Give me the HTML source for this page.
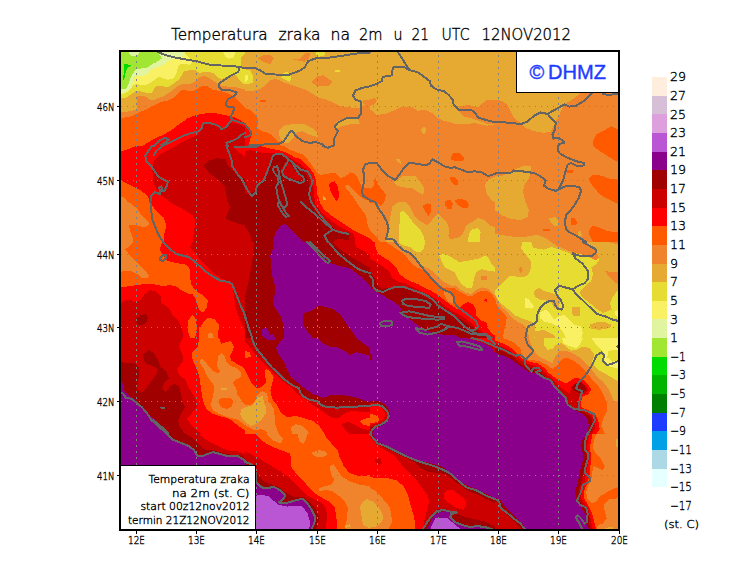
<!DOCTYPE html>
<html><head><meta charset="utf-8"><title>Temperatura zraka na 2m</title>
<style>html,body{margin:0;padding:0;background:#fff}svg{display:block}text{font-family:"DejaVu Sans","Liberation Sans",sans-serif;font-weight:200;fill:#000;stroke:#000;stroke-width:0.35px}.lib{font-family:"Liberation Sans",sans-serif;font-weight:400}</style>
</head><body>
<svg width="740" height="582" viewBox="0 0 740 582">
<rect x="0" y="0" width="740" height="582" fill="#fff"/>
<defs><clipPath id="cp"><rect x="121" y="52" width="497" height="477"/></clipPath></defs>
<g clip-path="url(#cp)" shape-rendering="crispEdges">
<rect x="121" y="52" width="497" height="477" fill="#F0842C"/>
<clipPath id="t0"><rect x="120" y="50" width="125" height="96"/></clipPath>
<g clip-path="url(#t0)">
<rect x="120" y="50" width="125" height="96" fill="#FF5A00"/>
<polygon fill="#FF0000" points="142,146 148.7,142 156.3,137.8 163.9,134.5 172.4,129.4 179.1,124.3 187.6,118.4 196,115 206.1,113.3 216.3,113.3 224.7,115 233.2,116.7 239.9,120.1 245,123.5 250,127 250,150 142,150"/>
<polygon fill="#CD0000" points="175.7,146 184.2,141.2 190.9,137.8 197.7,134.5 201.9,129.4 202.8,124.3 207.8,123.5 214.6,125.2 221.4,128.5 228.1,125.2 231.5,122.6 238.2,124.3 245,127.7 250,130 250,150 175,150"/>
<polygon fill="#F0842C" points="120,118.4 130.1,116.7 138.6,112.8 147,108.9 152.4,106.2 156.8,104 163.2,101.4 168.6,100.3 173,98.1 176.2,95.4 180.5,91 182.7,89.5 187,90.5 194,90.5 201.6,86.2 207,86.2 212.4,89.5 220,91 227.6,93.2 232,95.4 236.2,98.6 240.5,103 245,107.3 250,110.5 255.7,112 260,112 260,50 120,50"/>
<polygon fill="#E6AA32" points="120,112.5 128,111.5 133,110.5 136.9,109 136.9,96 145,96.5 149.2,99.2 153.5,100.3 156.8,98.6 163.2,96.5 167.6,93.8 171.9,90.5 176.2,87.3 180.5,84.6 184.9,83.5 189.2,84.6 193.5,82.4 197.8,79.2 199.5,77 204.9,76 209.2,78.1 215.7,82.4 221,85.7 228.6,86.8 236.2,87.3 240.5,88.4 247,89.5 253.5,88.9 260,86.8 260,50 120,50"/>
<polygon fill="#E6DC32" points="120,98.1 125.4,97.6 129.7,95.4 134,92.2 137.3,90.5 141.6,91.6 146,92.7 150.3,93.2 152.4,92.2 154.6,87.8 157.3,85.7 163.2,86.2 167.6,87.3 170.8,85.7 175.1,82.4 179.5,79.2 182,75 184.3,71 190.8,70 196.2,70.5 199.5,73.2 206,71.6 212.4,72.7 215.7,74.9 219,78.1 221,79.7 223.2,78.6 227.6,76 232,74.3 236.2,75.4 239.5,80.3 242.7,83.5 249.2,85.7 253.5,84 254.6,79.2 252.4,73.8 249.2,70.5 244.9,69 241.6,66.2 240.5,62 241.6,56.5 244.9,53.2 247,50 120,50"/>
<polygon fill="#FAF064" points="120,94.3 125.4,93.2 129.7,90 133,85.7 136.2,84 141.6,85.1 147,84.6 151.4,82.4 155.7,78.6 158.9,77 163.2,78.1 167.6,79.7 171.9,79.2 175.1,76 177.3,71.6 177.8,66.2 180.5,64 184.9,63.5 189.2,65.1 191.9,63 190.3,58.6 187,55.4 184.9,53.2 183.8,50 120,50"/>
<polygon fill="#E1F5A0" points="120,92.7 124.3,92.7 127.6,90.5 130.8,87.3 133,82.4 134,77.6 137.3,75.4 141.6,75.9 144.9,75.4 148.1,73.2 151.4,68.9 155.7,67.8 160,66.2 164.3,64 168.6,60.8 173,59.2 177.3,57.6 181.6,56.5 184.3,54.3 184.9,50 120,50"/>
<polygon fill="#A0E632" points="120,88.4 125.4,88.9 128.1,85.7 130.3,78.1 133,73.2 136.2,69.5 141.6,68.4 148.1,67.3 152.4,64 156.8,61.9 161.6,58.6 160,55.4 156.8,50 120,50"/>
<polygon fill="#E1F5A0" points="127.6,50 129.7,54.9 134,56.5 137.8,55.4 140,50"/>
<polygon fill="#00DC00" points="124.1,63.8 131.9,65.1 127.6,67.8 125.4,73.2 124.1,79.7 122.7,79.7 124.1,71.1"/>
<polygon fill="#FAF064" points="222.2,50 225.4,56.5 228.6,58.6 233,57.6 235.1,54.3 235.7,50"/>
</g>
<clipPath id="t1"><rect x="245" y="50" width="125" height="96"/></clipPath>
<g clip-path="url(#t1)">
<rect x="245" y="50" width="125" height="96" fill="#F0842C"/>
<polygon fill="#E6AA32" points="245,91.4 255.1,90.5 261.9,88 267,83.8 270.3,80.4 275.4,78.7 281.3,81.2 287.2,83.8 295.7,86.3 304.1,89.2 312.6,93.6 317.6,97.3 324.4,99 332.8,102.4 339.6,105.7 349.7,107.4 361.6,108.3 363.2,104.9 370,104.9 370,50 245,50"/>
<polygon fill="#F0842C" points="257.7,58.4 263.6,55.1 270.3,55.1 273.7,58.4 270.3,64.4 265.3,62.7"/>
<polygon fill="#F0842C" points="292.3,59.3 300.7,58.4 305.8,52.5 310,52.5 309.2,58.4 304.1,61.8"/>
<polygon fill="#F0842C" points="310.9,82.1 317.6,76.2 323.5,75.3 332.8,82.1 327.8,86.3 317.6,86.3"/>
<polygon fill="#F0842C" points="363.2,99.8 370,99.8 370,104.9 363.2,104.4"/>
<polygon fill="#E6DC32" points="245,69.4 250.1,70.3 253.4,77 252.6,82.9 245,84.6"/>
<polygon fill="#E6DC32" points="283,72.8 288.1,72 291.5,77 289.8,82.1 285.5,79.6 281.3,77.9"/>
<polygon fill="#E6DC32" points="314.3,50 326.1,50 324.4,55.9 317.6,56.8"/>
<polygon fill="#E6DC32" points="335.4,70.3 339.6,70.3 339.6,72 335.4,72"/>
<polygon fill="#FAF064" points="245,74.5 247.5,75.3 248.4,79.6 245,82.1"/>
<polygon fill="#E6AA32" points="278.8,131.1 283,126 294,123.5 304.1,124.3 312.6,128.5 317.6,132.8 317.6,137 310.9,135.3 302.4,131.1 295.7,132.8 294,137.8 288.9,142.9 283,142.9 279.6,137"/>
<polygon fill="#E6AA32" points="336.2,121.8 346.4,117.6 358.2,119.3 359.9,124.3 349.7,124.3 339.6,126.9 336.2,129.4"/>
<polygon fill="#FF5A00" points="245,108.3 250.1,110 255.1,114.2 258.5,120.9 256.8,127.7 261.9,131.1 268.6,132.8 274.6,137.8 278.8,142.1 281.3,145.9 245,145.9"/>
<polygon fill="#FF0000" points="245,124.3 249.2,129.4 251.8,134.5 250.1,139.5 248.4,145.9 245,145.9"/>
<polygon fill="#FF5A00" points="260.2,99.8 266.1,99.8 266.1,101.5 260.2,101.5"/>
</g>
<clipPath id="t2"><rect x="370" y="50" width="125" height="96"/></clipPath>
<g clip-path="url(#t2)">
<rect x="370" y="50" width="125" height="96" fill="#E6AA32"/>
<polygon fill="#F0842C" points="370,109.1 376.8,115 386.9,113.3 395.3,110 401.2,106.6 412.2,106.6 417.3,110.8 425.7,110 432.5,113.3 437.6,117.6 444.3,120.9 454.5,123.5 464.6,124.3 474.7,123 486.6,125.7 495,124.3 495,145.9 370,145.9"/>
<polygon fill="#F0842C" points="458.7,106.6 468,104.9 478.1,107.4 486.6,99.8 495,99.8 495,124.3 488.2,124.3 479.8,120.9 471.4,118.4 464.6,116.7 459.5,111.7"/>
<polygon fill="#F0842C" points="370,99 375.1,98.1 376.8,100.7 375.1,104.1 370,105.7"/>
<polygon fill="#E6AA32" points="420.7,130.2 424.1,126 426.6,130.2 424.1,135.3"/>
</g>
<clipPath id="t3"><rect x="495" y="50" width="125" height="96"/></clipPath>
<g clip-path="url(#t3)">
<rect x="495" y="50" width="125" height="96" fill="#F0842C"/>
<polygon fill="#E6AA32" points="495,50 495,99.8 501.8,100.7 506.8,104.1 510.2,110.8 513.6,117.6 520.3,122.6 525.4,127.7 533.9,131.1 544,132.8 550.7,131.9 554.1,124.3 558.3,117.6 562.6,107.4 567.6,102.4 574.4,98.1 579.5,93.9 582.8,92.2 582.8,50"/>
<polygon fill="#FF5A00" points="593,141.2 596.4,134.5 603.1,131.1 611.6,126 617.5,129.4 620,145.9 593,145.9"/>
</g>
<clipPath id="t4"><rect x="120" y="146" width="125" height="96"/></clipPath>
<g clip-path="url(#t4)">
<rect x="120" y="146" width="125" height="96" fill="#CD0000"/>
<polygon fill="#FF0000" points="120,146 175.7,146 169,149.4 160.5,154.4 153.8,160.4 152.1,168 152.9,176.4 153.8,184 156.3,189.1 160.5,195 165.6,198.4 170.7,202.6 177.4,206 185.9,211 192.6,215.3 195.2,220.3 194.3,230.5 192.6,241.9 120,241.9"/>
<polygon fill="#FF5A00" points="120,146 136,146 128.4,149 120,151.9"/>
<polygon fill="#FF5A00" points="120,179.8 128.4,184 138.6,189.1 147,195 151.2,204.3 156.3,211 163.9,217.8 166.5,225.4 164.3,233.8 163.6,241.9 120,241.9"/>
<polygon fill="#F0842C" points="120,196.7 124.2,197.5 127.6,201.7 131.8,204.3 136.9,208.5 140.3,213.6 145.3,218.6 149.6,222.9 147.9,226.2 143.6,227.1 136.9,225.4 128.4,224.5 130.1,230.5 132.7,237.2 133.5,241.9 120,241.9"/>
<polygon fill="#A00000" points="203.6,165.4 209.5,160.4 217.1,158.2 225.6,159.5 227.3,164.6 231.5,169.6 236.6,173.9 241.6,177.2 245,178.9 245,225.4 238.2,223.7 231.5,221.2 225.6,218.6 228.1,212.7 229.8,206.8 227.3,200.1 225.6,191.6 224.7,186.5 221.4,182.3 216.3,178.1 209.5,173 206.1,168.8"/>
<polygon fill="#FF0000" points="232.3,146 245,146 245,157 241.6,154.4 236.6,150.2"/>
</g>
<clipPath id="t5"><rect x="245" y="146" width="125" height="96"/></clipPath>
<g clip-path="url(#t5)">
<rect x="245" y="146" width="125" height="96" fill="#F0842C"/>
<polygon fill="#FF5A00" points="283.9,146 288.9,149.4 295.7,151.9 302.4,154.4 308,160 312.6,166.3 317.6,173 320.3,175 327,173.7 335,173 340.5,177.8 344.6,177 350,172.4 354,173 358,178.4 361,185.2 363.5,188 372,188 372,250 245,250 245,146"/>
<polygon fill="#F0842C" points="347,184.5 350,186 355,192 361,197 366,200 372,200 385,238 380,238.1 378.1,237.2 374.3,234.3 370.5,230.5 367.7,225.8 366.8,219.2 364.9,213.5 361.1,208.8 356,201.6 350.5,193.5 345,186.8"/>
<polygon fill="#FF0000" points="260.2,146 270.3,148.5 278.8,150.2 287.2,152.8 295.7,157.8 300,158.8 308.1,166.3 313.5,173 316.2,181.1 316.9,190.6 318.9,198.7 320,203 324.2,209.7 329.9,214.5 335.5,218.2 341.2,222 346.9,225.8 352.6,229.6 358.2,232.4 363.9,235.3 369.6,238.1 373.4,241.9 375.8,246.6 245,250 245,146"/>
<polygon fill="#CD0000" points="245,151.9 250.1,150.2 260.2,152.4 270.3,153.1 278.8,153.6 287.2,156.5 295.7,161.2 300,163.6 306.8,169.6 311.5,177.1 313.5,186.5 314.2,196 315,201 315.7,205 320.4,210.7 326.1,216.4 331.8,221.1 337.4,225.3 343.1,228.7 348.8,231.5 352.6,233.4 354.9,237.2 355.4,242.8 355.4,247.6 245,250 245,152"/>
<polygon fill="#FF0000" points="245,147.4 250.1,147.4 260.2,149.4 260.2,152.4 250.1,150.2 245,151.9"/>
<polygon fill="#A00000" points="245,193.6 248.4,193.6 253.4,191.9 256.8,185.2 263.6,180.1 267,171.7 270.3,163.2 272.9,155.3 278.8,154.4 287.2,157.8 294,162 300,168.3 305.4,173 308.8,179.8 310.1,189.2 310.8,198.7 312,204 313.8,208.8 319.5,215.4 325.1,221.1 330.8,225.8 336.5,230.5 342.2,233.4 348.8,235.3 348.8,240 345,240.5 340.3,238.6 336.5,239.5 333.7,241.9 333.2,245.7 333,250 251.8,250.7 251.8,241.9 250.1,233.8 245,227.1"/>
<polygon fill="#CD0000" points="285.5,162 289.8,162.9 293.1,168 297.4,173 301.6,177.2 300.7,179.8 294.8,179.8 288.1,177.2 283,173.9 281.3,169.6 283,165.4"/>
<polygon fill="#8B008B" points="272.9,241.9 275.4,232.1 281.3,225.4 285.5,223.7 290.6,228.8 297.4,235.5 303.3,241.9"/>
<polygon fill="#FF0000" points="329,185.2 331,181.8 334.5,181.4 337.2,184.5 338.5,190.6 338.5,198 336.5,201.4 333.1,196 330.4,191.3"/>
<polygon fill="#E6AA32" points="323,195.3 326.4,199.4 323,200"/>
</g>
<clipPath id="t6"><rect x="370" y="146" width="125" height="96"/></clipPath>
<g clip-path="url(#t6)">
<rect x="370" y="146" width="125" height="96" fill="#F0842C"/>
<polygon fill="#FF5A00" points="370,189.9 373.4,186.5 375.1,177.2 377.6,184 381.8,189.1 386,195 384.4,201.7 381,206 376.8,203.4 370,202.6"/>
<polygon fill="#FF5A00" points="370,230.5 376.8,237.2 380.1,241.9 370,241.9"/>
<polygon fill="#FF0000" points="370,238.1 373.4,241.9 370,241.9"/>
<polygon fill="#FF5A00" points="451.1,156.1 453.6,153.1 459.5,153.1 464.6,157.8 462.9,161.2 456.1,161.2 451.1,159.5"/>
<polygon fill="#FF5A00" points="449.4,177.2 454.5,177.2 457.8,180.6 457.8,184.5 453.6,184.5 451.1,181.5"/>
<polygon fill="#FF5A00" points="445.2,200.9 450.2,199.7 452.8,203.4 451.9,208.8 447.7,209.3 445.2,205.1"/>
<polygon fill="#FF5A00" points="454.5,200.1 461.2,198.7 467.1,200.9 469.3,205.1 467.1,208.5 462.1,207.7 457,204.3"/>
<polygon fill="#FF5A00" points="422.4,206 427.4,203.4 430.5,204.3 430.5,212.7 428.3,216.1 424.9,211"/>
<polygon fill="#E6AA32" points="393.6,182.3 403.8,175.6 415.6,176.4 420.7,182.3 424.1,188.2 423.2,195 417.3,191.6 412.2,188.2 403.8,187.4 397,185.7"/>
<polygon fill="#E6AA32" points="386,241.9 386.9,233.8 388.6,225.4 391.1,213.6 392,206.8 397,202.6 405.5,201.7 410.5,207.7 413.9,215.3 419,220.3 427.4,225.4 431.7,220.3 435,216.1 438.4,213.6 442.6,217.8 446.9,222.9 449.4,228.8 448.5,235.5 450.2,238.9 457.8,238.1 462.9,233.8 466.3,225.4 473,221.2 478.1,217.8 484.9,220.3 489.9,225.4 495,227.1 495,241.9"/>
<polygon fill="#E6AA32" points="495,176.4 488.2,179.8 484.9,184.9 486.6,193.3 491.6,200.1 495,202.6"/>
<polygon fill="#E6AA32" points="395.3,159.2 400.4,159.5 400.7,163.7 397.9,162"/>
<polygon fill="#E6DC32" points="398.7,241.9 399.1,233.8 399.6,222 400.4,211.9 403.8,211 408.9,216.9 413.9,223.7 420.7,230.5 424.1,237.2 424.9,241.9"/>
<polygon fill="#E6DC32" points="468,241.9 468.8,233.8 471.4,229.6 478.1,227.9 480.6,232.1 479.8,241.9"/>
</g>
<clipPath id="t7"><rect x="495" y="146" width="125" height="96"/></clipPath>
<g clip-path="url(#t7)">
<rect x="495" y="146" width="125" height="96" fill="#F0842C"/>
<polygon fill="#FF5A00" points="593,146 599.7,151.1 606.5,155.3 613.2,159.5 620,162.9 620,146"/>
<polygon fill="#FF5A00" points="588.8,178.1 593,175.1 601.4,175.6 609.9,178.9 620,179.8 620,205.1 613.2,201.7 606.5,198.4 599.7,194.1 594.7,188.2 590.4,183.2"/>
<polygon fill="#FF5A00" points="588.8,230.5 593,225.4 599.7,227.9 608.2,231.3 620,232.1 620,241.9 593,241.9 589.6,235.5"/>
<polygon fill="#FF5A00" points="566.8,169.6 572.7,169.6 572.7,172.7 566.8,172.7"/>
<polygon fill="#FF5A00" points="571,218.6 574.4,217.8 576.9,222 576.1,225.4 571,224.5"/>
<polygon fill="#FF5A00" points="543.1,228.8 549.9,228.8 549.9,230.5 543.1,230.5"/>
<polygon fill="#E6AA32" points="495,176.4 501.8,176.1 510.2,171.3 518.6,168 525.4,165.4 531.3,166.3 531.3,171.3 528.8,178.1 524.6,184.9 522.9,191.6 525.4,201.7 528.8,210.2 527.9,216.9 520.3,220.3 510.2,218.6 501.8,215.3 495,210.2"/>
<polygon fill="#E6AA32" points="548.2,218.6 555.8,216.9 558.3,222 557.5,226.2 553.3,225.4"/>
<polygon fill="#E6AA32" points="495,233.8 505.1,235.5 517,237.2 528.8,236.4 537.2,234.7 545.7,238.1 550.7,241.9 495,241.9"/>
<polygon fill="#E6AA32" points="577.8,232.1 580.3,230.5 582,235.5 578.6,236.4"/>
</g>
<clipPath id="t8"><rect x="120" y="242" width="125" height="96"/></clipPath>
<g clip-path="url(#t8)">
<rect x="120" y="242" width="125" height="96" fill="#FF0000"/>
<polygon fill="#CD0000" points="192.6,242 190.1,247.1 194.3,252.1 199.4,258.9 206.1,265.6 212.9,272.4 221.4,278.3 229.8,282.5 232.8,287.6 234,296.9 235.5,307.4 238.9,317.5 244.2,327.8 245,329.8 245,242"/>
<polygon fill="#CD0000" points="120,303.7 125.1,300.3 130.1,299.4 133.5,302 140.3,300.3 144.5,294.4 149.6,290.1 155.5,291 160.5,296.1 161.4,302.8 169,307.9 172.4,314.6 177.4,319.7 181.7,326.5 183.3,337.9 120,337.9"/>
<polygon fill="#A00000" points="136,318.9 140.3,315.5 145.3,313.8 147.9,317.2 147,322.2 141.1,325.6 136.9,324.8"/>
<polygon fill="#FF5A00" points="120,242 162.2,242 159.7,248.8 162.2,254.7 167.3,260.6 175.7,263.1 184.2,264 189.3,267.3 190.1,275.8 190.9,284.2 196,291 202.8,295.2 207.8,300.3 207,307 203.6,312.1 200.2,311.3 197.7,306.2 196,299.4 192.6,294.4 187.6,293.5 182.5,291 175.7,285.9 169,285.1 163.1,286.3 153.8,284.2 145.3,283.9 136.9,285.1 128.4,286.3 120,287.6"/>
<polygon fill="#FF5A00" points="187.6,321.4 192.6,314.6 196,319.7 196.9,328.1 195.2,337.9 190.1,337.9 187.6,329.8"/>
<polygon fill="#FF5A00" points="202.8,323.1 207.8,318 214.6,318.9 218.8,324.8 218,337.9 199.4,337.9 198.5,329.8"/>
<polygon fill="#F0842C" points="120,242 133.5,242 130.1,245.4 125.1,249.6 130.1,255.5 136.9,262.3 143.6,269 148.7,274.9 147.9,278.3 142,278.3 136,273.2 130.1,270.7 123.4,270.7 120,272.4"/>
<polygon fill="#F0842C" points="207.8,334.1 212.1,332.4 213.8,337.9 207.8,337.9"/>
</g>
<clipPath id="t9"><rect x="245" y="242" width="125" height="96"/></clipPath>
<g clip-path="url(#t9)">
<rect x="245" y="242" width="125" height="96" fill="#8B008B"/>
<polygon fill="#A00000" points="245,242 273.7,242 272.9,248.8 270.3,255.5 271.2,265.6 272,275.8 274.6,284.2 275.4,292.7 272.9,299.4 273.7,306.2 277.1,311.3 280.5,316.3 283,323.1 283.9,331.5 283.5,337.9 245,337.9"/>
<polygon fill="#A00000" points="307.5,242 312.6,247.9 319.3,253.8 326.1,259.7 331.1,263.1 337.9,265.6 346.4,267.3 353.1,270.7 359.9,275.8 366.6,281.7 370,285.1 370,242"/>
<polygon fill="#A00000" points="303.3,313.8 309.2,311.3 314.3,309.6 317.6,305.9 322.7,306.2 329.5,307.9 336.2,311.3 341.3,315.5 344.7,321.4 349.7,328.1 354.8,334.9 355.6,337.9 312.6,337.9 307.5,331.5 303.3,324.8"/>
<polygon fill="#8B008B" points="261.9,329.8 266.1,327.3 268.6,331.5 269.5,334.9 272.9,334.1 275.4,337.9 262.7,337.9"/>
<polygon fill="#CD0000" points="245,242 254.3,242 253.4,248.8 252.6,258.9 250.9,269 249.2,279.2 246.7,289.3 245,296.1"/>
<polygon fill="#CD0000" points="332.8,242 339.6,248.8 346.4,253.8 354.8,258.9 363.2,264 370,267.3 370,242"/>
<polygon fill="#FF0000" points="354.8,242 356.5,247.1 363.2,250.4 370,255.5 370,242"/>
</g>
<clipPath id="t10"><rect x="370" y="242" width="125" height="96"/></clipPath>
<g clip-path="url(#t10)">
<rect x="370" y="242" width="125" height="96" fill="#E6AA32"/>
<polygon fill="#E6DC32" points="397.9,242 403.8,245.4 410.5,247.1 414.8,251.3 420.7,252.1 424.1,248.8 424.9,242"/>
<polygon fill="#E6DC32" points="439.3,255.5 444.3,253.8 451.1,257.2 459.5,262.3 468,260.6 478.1,258.9 484.9,255.5 488.2,257.2 491.6,264 495,267.3 495,271.6 488.2,270.7 481.5,269 476.4,271.6 473.9,278.3 473,284.2 471.4,288.5 466.3,287.6 461.2,284.2 457.8,278.3 454.5,272.4 449.4,269.9 444.3,267.3 441.8,261.4"/>
<polygon fill="#F0842C" points="385.3,236 392,239.4 397.4,245.5 402.8,250.9 409.6,252.9 415,258.3 420.4,264.4 424.5,267.1 428.5,268.4 433.9,272.5 438,276.5 442,280.6 447.4,284 452.8,286 455,285.3 460.4,289.6 465.8,292.8 471.2,293.9 476.6,289.6 482,287.4 487.4,288.5 491.8,291.8 495,295.5 498.2,301.5 498,340 365,340 365,236"/>
<polygon fill="#F0842C" points="480.6,275.8 487.4,275.8 487.4,279.5 480.6,279.5"/>
<polygon fill="#FF5A00" points="377.8,236 382.6,240 389.3,244.1 396,248.8 402.8,252.9 406.9,257.6 410.9,263 416.4,267.1 423.1,269.8 428.5,274.5 433.9,279.2 439.3,284.6 443.4,288 446,287.4 451.5,288.2 455,288.5 460.4,292.3 465.8,295 471.2,296.6 476.6,292.8 482,290.7 487.4,291.2 491.8,293.9 494.5,298.2 496.6,303.6 497,340 365,340 365,236"/>
<polygon fill="#F0842C" points="443.4,290 446.5,289 450,293 453,298 455,303 451.5,303.6 447.4,300.9 444.7,295.5"/>
<polygon fill="#FF0000" points="372.4,236 374.5,241.4 375.8,248.2 378.5,253.6 383.9,257.6 390.7,261.7 396,267.1 399.5,273.8 404.2,277.9 410.9,281.3 417.7,284 424.5,288 431.2,290.7 436.6,294.1 442,298.2 447.4,302.2 452.8,306.3 457.8,309.6 462,305.3 468,302 473,304.5 475.6,309.6 476.4,316.3 481.5,320.5 486.6,323 488.2,328.1 491.6,333.2 495,335.8 495,340 365,340 365,236"/>
<polygon fill="#CD0000" points="365,256.3 370.4,259 377.2,263 383.9,267.1 390,272.5 392,277.9 397.4,281.3 404.2,283.3 410.9,286 417.7,289.4 424.5,292.8 431.2,296.1 436.6,299.5 442,303.6 447.4,307.6 452.8,311.7 461.2,315.5 469.7,321.4 476.4,327.3 483.2,332.4 491.6,336.6 495,338 495,340 365,340"/>
<polygon fill="#A00000" points="365,269.8 370.4,272.5 374.5,277.9 377.2,284.6 381.2,288.7 388,288 394.7,286.7 402.8,286.7 409.6,290 416.4,293.4 423.1,296.1 429.9,298.8 435.3,302.2 440.7,306.3 446.1,310.3 448.8,314 462.9,320.5 471.4,326.5 478.1,331.5 486.6,336.6 488.2,338 488,340 365,340"/>
<polygon fill="#8B008B" points="365,282 370.4,287.4 377.2,292.8 385.3,296.8 392,300.9 398.8,304.9 400.8,309 400,314 403.8,314.6 410.5,319.7 417.3,324.8 425.7,329.8 435.9,334 446,334.9 454.5,334.6 459.5,338 459.5,340 365,340"/>
<polygon fill="#FF0000" points="483.2,300.3 487.4,298.6 487.4,302"/>
</g>
<clipPath id="t11"><rect x="495" y="242" width="125" height="96"/></clipPath>
<g clip-path="url(#t11)">
<rect x="495" y="242" width="125" height="96" fill="#E6DC32"/>
<polygon fill="#E6AA32" points="495,242 522,242 521.2,248.8 525.4,253.8 530.5,260.6 531.3,267.3 528.8,274.1 523.7,277.5 517,276.6 510.2,275.8 505.1,280.9 500.1,285.9 495,291"/>
<polygon fill="#E6AA32" points="531.3,242 533,247.9 544,249.6 551.6,247.1 560,249.6 569.3,253 572.7,255.5 574.4,252.1 569.3,246.2 565.9,242"/>
<polygon fill="#E6AA32" points="599.7,258.9 596.4,264 591.3,267.3 593,274.1 591.3,280.9 587.1,284.2 582.8,288.5 579.5,292.7 582.8,297.7 589.6,302.8 596.4,308.7 603.1,312.9 611.6,309.6 609.9,302.8 613.2,296.1 617.5,291 620,258.9"/>
<polygon fill="#E6AA32" points="533.9,291 538.9,287.6 544,291 550.7,292.7 555.8,294.4 560,299.4 559.2,306.2 554.1,308.7 550.7,301.1 544,300.3 538.9,299.4 534.7,296.1"/>
<polygon fill="#E6AA32" points="495,292.7 495.5,295 498.2,300.4 502.6,304.7 506.8,308 511.2,311.3 515.4,315.5 522.9,318.9 530.5,321.4 535.5,323.9 534.7,329.8 533.9,337.9 495,337.9"/>
<polygon fill="#F0842C" points="495,295.5 498.2,301.5 501.4,306.9 506.8,311.3 511.2,317 517,321.4 523.7,324.8 527.9,329 528.8,337.9 495,337.9"/>
<polygon fill="#FF5A00" points="495,298.6 496.5,303.7 499.2,309.1 503.6,313.5 506.8,317 506,323.1 504.3,329.8 502.6,337.9 495,337.9"/>
<polygon fill="#E6AA32" points="571.9,307 579.5,307 579.5,316.3 572.7,316.3"/>
<polygon fill="#E6AA32" points="589.6,324.8 596.4,322.2 604.8,322.2 611.6,324.8 609.9,328.1 599.7,329.8 591.3,329"/>
<polygon fill="#E6AA32" points="533.9,331.5 544,329.8 552.4,334.1 555.8,337.9 534.7,337.9"/>
<polygon fill="#E6AA32" points="586.2,242 591.3,247.1 596.4,252.1 598.9,258 599.7,258.9 620,258.9 620,242"/>
<polygon fill="#F0842C" points="550.7,242 557.5,246.2 565.9,249.6 574.4,253 582.8,254.7 589.6,257.2 596.4,260.6 598.9,258 596.4,252.1 591.3,247.1 586.2,242"/>
<polygon fill="#F0842C" points="604.8,270.7 611.6,272.4 620,271.6 620,285.9 613.2,280.9 608.2,275.8"/>
<polygon fill="#F0842C" points="518.6,269 521.2,266.5 522.9,270.7 520.3,273.2"/>
<polygon fill="#F0842C" points="609.9,242 620,242 620,243.7 609.9,243.4"/>
<polygon fill="#FAF064" points="525.4,297.7 528.8,299.4 533.9,306.2 532.2,308.7 525.4,307.9"/>
<polygon fill="#FAF064" points="539.8,312.9 545.7,309.6 550.7,314.6 554.1,319.7 559.2,316.3 564.3,314.6 569.3,319.7 574.4,324.8 581.1,326.5 582.8,333.2 581.1,337.9 565.9,337.9 562.6,331.5 557.5,326.5 550.7,323.1 544,321.4 539.8,318"/>
<polygon fill="#FAF064" points="614.9,311.3 620,309.6 620,317.2 615.8,316.3"/>
</g>
<clipPath id="t12"><rect x="120" y="338" width="125" height="96"/></clipPath>
<g clip-path="url(#t12)">
<rect x="120" y="338" width="125" height="96" fill="#CD0000"/>
<polygon fill="#A00000" points="120,361.6 126.8,363.3 135.2,363.3 138.6,366.7 139.4,374.3 137.7,383.6 136.9,388.7 142,392.9 147,387 152.1,380.2 156.3,374.3 158,369.2 152.1,365.9 145.3,363.3 142.8,354.9 148.7,349.8 153.8,353.2 158,360 160.5,366.7 166.5,371.8 169,378.5 164.8,381.9 162.2,388.7 165.6,392.1 169.8,387 174.1,383.6 179.1,386.1 180.8,393.7 182.5,402.2 185,407.3 180.8,414 178.3,420.8 180,427.5 185.5,433.9 120,433.9"/>
<polygon fill="#8B008B" points="120,380.2 123.4,383.6 124.2,390.4 128.4,395.4 135.2,399.7 140.3,404.7 145.3,409.8 150.4,415.7 156.3,420.8 162.2,427.5 168.1,433.9 120,433.9"/>
<polygon fill="#FF0000" points="182.5,338 179.1,346.4 182.5,354.9 182.5,361.6 177.4,368.4 179.1,375.2 185.9,380.2 188.4,387 192.6,393.7 196,398.8 197.7,405.6 192.6,412.3 186.7,419.1 190.9,424.1 196,429.2 201.1,433.9 245,433.9 245,338"/>
<polygon fill="#FF5A00" points="199.4,338 197.7,346.4 191.8,353.2 192.6,360 196,366.7 199.4,376.9 201.1,388.7 202.8,400.5 206.1,408.9 212.9,414 221.4,416.5 229.8,419.1 238.2,425.8 245,430.1 245.8,430.1 246.2,371.3 243,366.9 236.6,363.7 231.1,360.5 230,356.1 232.2,351.9 233.9,346.4 231.1,340.9 226.8,342.1 221.4,343.6 219.7,339.9 219.3,338"/>
<polygon fill="#F0842C" points="199.9,359.7 203.1,359.2 208,365.1 212.8,371.1 218.2,373.2 220.4,371.1 216.6,366.2 218.2,356.5 221.5,353.2 224.7,356.5 226.4,361.9 230.7,366.2 236.6,367.8 241.5,372.7 240.4,377 235,380.3 232.8,383.5 236.1,387.8 237.2,394.3 240.4,398.6 243,402.5 246,405 246,426 242.3,422.7 236.9,419.5 230.4,417.8 225,416.2 219.4,414 213,410.6 210.4,404.7 213.4,395.4 213.9,385.7 211.2,381.4 206.9,375.9 203.6,368.4 200.4,364.1"/>
<polygon fill="#FF5A00" points="219.3,399.2 224.2,397.6 230.7,397.6 232.8,400.8 232.3,406.2 227.4,408.9 222,407.8 219.3,404.1"/>
<polygon fill="#E6AA32" points="221,388 226.4,388 227,389.8 221,389.8"/>
<polygon fill="#E6AA32" points="241.5,409 245,407.6 246,407.6 246,422 242.3,418.4 240.1,414"/>
</g>
<clipPath id="t13"><rect x="245" y="338" width="125" height="96"/></clipPath>
<g clip-path="url(#t13)">
<rect x="245" y="338" width="125" height="96" fill="#FF0000"/>
<polygon fill="#CD0000" points="245,338 250.9,338 255.1,346.4 260.2,353.2 267,361.6 273.7,368.4 280.5,375.2 287.2,381.9 294,386.1 299.1,388.7 302.4,394.6 309.2,399.7 317.6,401.3 322.7,404.7 332.8,407.3 346.4,407.3 359.9,406.4 370,405.6 370,412.3 363.2,412.3 354.8,410.6 346.4,412.3 339.6,417.4 332.8,418.2 326.1,414 319.3,408.9 312.6,404.7 304.1,398.8 297.4,393.7 290.6,387 283.9,381.9 277.1,376 270.3,370.1 263.6,363.3 256.8,356.6 251.8,349.8 247.5,343.9 245,341.4"/>
<polygon fill="#A00000" points="250.9,338 255.1,346.4 260.2,353.2 267,361.6 273.7,368.4 280.5,375.2 287.2,381.9 294,386.1 299.1,388.7 302.4,394.6 309.2,399.7 317.6,401.3 322.7,404.7 332.8,407.3 346.4,407.3 359.9,406.4 370,405.6 370,338"/>
<polygon fill="#8B008B" points="283.9,338 278.8,343.1 276.2,348.1 278.8,354.9 283.9,361.6 287.2,370.1 291.5,377.7 299.1,383.6 305.8,389.5 314.3,394.6 322.7,398 329.5,395.4 339.6,394.6 349.7,396.3 359.9,398.8 366.6,401.3 370,402.2 370,355.7 363.2,354 356.5,352.4 349.7,354.9 343,349.8 336.2,347.3 329.5,346.4 322.7,343.1 317.6,338"/>
<polygon fill="#8B008B" points="356.5,338 363.2,343.1 370,348.1 370,338"/>
<polygon fill="#8B008B" points="265.3,338 275.4,338 274.6,340.5 267,339.7"/>
<polygon fill="#CD0000" points="341.3,424.1 348,421.6 356.5,425.8 363.2,429.2 370,430.1 370,433.9 349.7,433.9 344.7,429.2"/>
<polygon fill="#FF5A00" points="245,370.1 248.4,376.9 251.8,383.6 256.8,388.7 261.9,387 266.1,381.9 264.4,371.8 266.1,368.4 270.3,371.8 273.7,376.9 272,383.6 270.3,390.4 272,398.8 277.1,404.7 280.5,412.3 287.2,417.4 295.7,415.7 304.1,418.2 312.6,420.8 319.3,425.8 322.7,430.9 324.4,433.9 245,433.9"/>
<polygon fill="#FF5A00" points="245,350.7 250.1,352.4 250.9,356.6 245,358.3"/>
<polygon fill="#FF5A00" points="359.9,420.8 366.6,418.2 370,417.4 370,425.8 363.2,425"/>
<polygon fill="#F0842C" points="245,405.5 246.6,405.4 252,404.3 255.3,401 256.8,395.4 261.9,391.2 267,393.7 268.6,402.2 270.4,403.2 273.6,408.6 274.7,416.2 275.3,424.9 278,432.4 279.5,434 279.5,436 267.8,436 267.2,432.4 265,430.3 260.7,429.2 256.4,430.3 252,429.2 247.7,427 245,425"/>
<polygon fill="#F0842C" points="290.6,427.5 295.7,424.1 302.4,425.8 307.5,430.9 309.2,433.9 292.3,433.9"/>
<polygon fill="#E6AA32" points="245,407.3 251.8,405.6 257.7,397 262.7,396.3 264.4,403.9 266,406.5 265.5,414 261.8,419.5 256.4,423.8 251,425.9 246.6,423.2 245,421.5"/>
</g>
<clipPath id="t14"><rect x="370" y="338" width="125" height="96"/></clipPath>
<g clip-path="url(#t14)">
<rect x="370" y="338" width="125" height="96" fill="#8B008B"/>
<polygon fill="#CD0000" points="464.6,338 474.7,340.5 484.9,343.9 491.6,348.1 495,352.4 495,338"/>
<polygon fill="#FF0000" points="471.4,338 481.5,340.5 489.9,343.9 495,347.3 495,338"/>
<polygon fill="#A00000" points="370,354 372,354.9 371.7,360.8 370,360"/>
<polygon fill="#A00000" points="370,401.3 376.8,400.8 383.5,403 388.6,408.9 390.3,415.7 387.7,421.6 381.8,425.8 375.1,428.4 371.7,433.9 370,433.9"/>
<polygon fill="#CD0000" points="370,403 376.8,403 382.7,405.6 386.9,410.6 387.7,416.5 385.2,420.8 380.1,424.1 373.4,426.7 370,427.5"/>
<polygon fill="#FF0000" points="370,405.6 376.8,405.6 381.8,408.1 385.2,413.2 384.4,418.2 380.1,421.6 373.4,424.1 370,425"/>
<polygon fill="#FF5A00" points="370,414 375.1,414.9 378.4,417.4 379.3,420.8 375.1,422.5 370,423.3"/>
</g>
<clipPath id="t15"><rect x="495" y="338" width="125" height="96"/></clipPath>
<g clip-path="url(#t15)">
<rect x="495" y="338" width="125" height="96" fill="#FF5A00"/>
<polygon fill="#F0842C" points="502.6,338 511.9,341.4 520.3,348.1 522,354.9 528.8,360 538.9,360.8 547.4,365 552.4,369.2 557.5,365 560.9,360 565.9,357.4 572.7,360 579.5,365 586.2,371.8 591.3,378.5 598,385.3 603.1,393.7 607.3,403.9 606.5,412.3 603.1,419.1 601.4,425.8 604.8,433.9 620,433.9 620,338"/>
<polygon fill="#E6AA32" points="528.8,338 531.3,344.8 533.9,350.7 538.9,356.6 545.7,360 552.4,363.3 555,356.6 559.2,351.5 565.9,350.7 572.7,353.2 579.5,357.4 586.2,363.3 592.1,370.1 596.4,376 603.1,381.9 608.2,388.7 611.6,395.4 613.2,400.5 620,402.2 620,338"/>
<polygon fill="#E6DC32" points="544,338 544,344.8 547.4,349.8 552.4,349 555.8,344.8 560.9,343.1 565.9,346.4 571,350.7 576.1,349.8 582.8,346.4 589.6,348.1 594.7,354.9 592.1,360.8 594.7,366.7 599.7,370.9 606.5,374.3 613.2,378.5 620,381.9 620,338"/>
<polygon fill="#FAF064" points="561.7,338 563.4,343.1 570.2,346.4 576.1,348.1 580.3,343.9 582.8,338"/>
<polygon fill="#FAF064" points="591.3,338 596.4,344.8 603.1,351.5 603.1,360 608.2,365.9 620,369.2 620,338"/>
<polygon fill="#E6DC32" points="608.2,350.7 620,349.8 620,360.8 612.4,361.6 607.3,357.4"/>
<polygon fill="#FF0000" points="495,340.5 501.8,343.1 510.2,347.3 517,353.2 522,358.3 528.8,361.6 537.2,363.3 544,367.6 549.1,373.5 557.5,379.4 565.9,383.6 571,380.2 576.1,377.7 582.8,379.4 587.9,384.5 591.3,389.5 587.9,394.6 582.8,396.3 581.1,401.3 581.1,407.3 589.6,410.6 595.5,414.9 598.9,422.5 599.7,429.2 596.4,433.9 495,433.9"/>
<polygon fill="#CD0000" points="495,343.9 501.8,346.4 510.2,350.7 517,356.6 523.7,362.5 532.2,365 540.6,368.4 545.7,373.5 552.4,378.5 557.5,383.6 562.6,388.7 569.3,393.7 571,388.7 574.4,383.6 581.1,381.9 586.2,386.1 587.9,390.4 584.5,393.7 579.5,394.6 577.8,402.2 578.6,408.1 586.2,411.5 592.1,415.7 594.7,422.5 594.7,429.2 592.1,433.9 495,433.9"/>
<polygon fill="#A00000" points="495,348.1 503.4,351.5 511.9,355.7 518.6,361.6 525.4,366.7 533.9,369.2 540.6,371.8 545.7,376.9 552.4,382.8 557.5,388.7 564.3,395.4 567.6,402.2 572.7,407.3 579.5,410.6 587.1,414 591.3,418.2 593,424.1 591.3,430.9 589.6,433.9 495,433.9"/>
<polygon fill="#A00000" points="571,387.8 575.2,383.6 580.3,382.3 585.4,386.1 586.2,389.5 582.8,392.9 578.6,392.9 574.4,391.2"/>
<polygon fill="#8B008B" points="495,352.4 503.4,355.7 511.9,360 520.3,365.9 528.8,371.8 537.2,374.3 544,377.7 550.7,380.2 554.1,386.1 560,392.1 565.9,398.8 567.6,404.7 574.4,409.8 582.8,414 587.9,419.1 588.8,425.8 587.1,433.9 495,433.9"/>
</g>
<clipPath id="t16"><rect x="120" y="434" width="125" height="33"/></clipPath>
<g clip-path="url(#t16)">
<rect x="120" y="434" width="125" height="33" fill="#8B008B"/>
<polygon fill="#A00000" points="151.2,420 158.9,426.8 165.6,433.5 172.4,439.4 180.8,442.8 189.3,446.2 194.3,450.4 196.9,455.5 201.9,456.3 207.8,453.8 212.9,452.1 219.7,453.8 228.1,456.3 238.2,456.3 245,459.7 245,420"/>
<polygon fill="#CD0000" points="160.5,420 169,425.1 177.4,428.4 184.2,432.7 190.9,436.9 196.9,442 201.1,447 206.1,450.4 214.6,450.4 223,452.9 231.5,454.6 239.9,454.6 245,458 245,420"/>
<polygon fill="#FF0000" points="177.4,420 182.5,425.1 190.9,429.3 197.7,433.5 204.5,438.6 211.2,442.8 219.7,447 228.1,450.4 236.6,451.2 245,453.8 245,420"/>
<polygon fill="#FF5A00" points="221.4,420 228.1,423.4 236.6,426.8 245,430.1 245,420"/>
<polygon fill="#F0842C" points="238.2,420 245,423.4 245,420"/>
</g>
<clipPath id="t17"><rect x="245" y="434" width="125" height="96"/></clipPath>
<g clip-path="url(#t17)">
<rect x="245" y="434" width="125" height="96" fill="#FF0000"/>
<polygon fill="#FF5A00" points="255.1,434 261.9,440.8 270.3,445.8 280.5,450 289.8,453.4 291.5,459.3 290.6,466.1 295.7,472.9 302.4,479.6 309.2,488.1 315.9,494 322.7,498.2 329.5,501.6 334.5,506.6 336.2,515.1 336.7,521.8 337.1,529.9 370,529.9 370,475.4 358.2,475.9 349.7,473.2 343.8,466.1 339.6,457.6 337.9,450 332,444.1 326.9,438.2 324.4,434"/>
<polygon fill="#F0842C" points="267,434 278.8,434 283,439.1 280.5,443.3 273.7,440.8"/>
<polygon fill="#F0842C" points="297.4,434 307.5,434 305.8,439.1 303.3,444.1 299.1,440.8"/>
<polygon fill="#F0842C" points="311.7,452.6 319.3,450 326.1,451.7 326.9,455.1 321,457.6 314.3,456"/>
<polygon fill="#F0842C" points="329.5,466.1 333.7,464.4 337.1,469.5 341.3,476.2 349.7,481.3 359.9,484.7 370,486.4 370,529.9 346.4,529.9 346.4,521.8 347.2,515.1 348,508.3 344.7,501.6 339.6,496.5 332.8,491.4 326.1,489.7 319.3,491.4 318.5,488.1 324.4,486.4 331.1,484.7 334.5,479.6 331.1,474.5"/>
<polygon fill="#E6AA32" points="359.9,506.6 363.2,501.6 366.6,499 370,500.7 370,528.6 363.2,525.2 361.6,516.8"/>
<polygon fill="#E6AA32" points="344.7,525.2 349.7,524.4 351.4,526.9 345.5,527.8"/>
<polygon fill="#CD0000" points="245,450.9 251.8,454.3 260.2,459.3 268.6,464.4 278.8,470.3 287.2,476.2 294,483 300.7,489.7 307.5,495.7 315.9,499.9 323.5,504.1 326.4,510 326.9,516.8 326.4,523.5 326.1,529.9 245,529.9"/>
<polygon fill="#A00000" points="245,461 255.1,466.1 257.7,474.5 263.6,481.3 272,484.7 280.5,488.1 285.5,493.1 294,496.5 302.4,496.5 309.2,501.6 315.9,508.3 319.3,516.8 317.6,525.2 315.9,529.9 245,529.9"/>
<polygon fill="#8B008B" points="256,479.6 260.2,484.7 267,488.1 273.7,486.4 280.5,490.6 285.5,494.8 283,499.9 278.8,502.4 285.5,503.3 294,500.7 302.4,499 307.5,503.3 311.7,510 315.1,516.8 314.3,523.5 311.7,529.9 245,529.9 245,467.8"/>
<polygon fill="#BA55D3" points="245,497.3 261.9,494.8 268.6,496.5 273.7,500.7 278.8,504.9 287.2,506.6 295.7,505.8 302.4,506.6 307.5,513.4 310,521.8 309.2,529.9 245,529.9"/>
</g>
<clipPath id="t18"><rect x="370" y="434" width="125" height="96"/></clipPath>
<g clip-path="url(#t18)">
<rect x="370" y="434" width="125" height="96" fill="#CD0000"/>
<polygon fill="#A00000" points="370,435.7 376.8,443.3 385.2,447.5 395.3,452.6 405.5,457.6 413.9,461.9 420.7,467.8 429.1,472 437.6,473.2 444.3,473.7 451.1,477.9 457.8,483.8 464.6,488.9 471.4,492.3 479.8,495.7 488.2,499.9 495,503.3 495,434 370,434"/>
<polygon fill="#8B008B" points="372.5,434 376.8,440.8 385.2,445 395.3,450 405.5,455.1 415.6,459.3 424.1,461.9 434.2,464.4 442.6,466.9 449.4,472 456.1,477.9 462.9,483.8 471.4,487.2 479.8,490.6 488.2,494.8 495,498.2 495,434"/>
<polygon fill="#FF0000" points="370,437.4 378.4,446.7 386.9,450.9 393.6,455.1 398.7,461 403.8,467.8 410.5,474.5 417.3,481.3 422.4,488.1 427.4,494.8 429.1,501.6 427.4,508.3 425.7,515.1 424.1,521.8 422.4,529.9 370,529.9"/>
<polygon fill="#FF0000" points="443.5,494 447.7,489.7 452.8,489.7 459.5,494.8 465.4,499.9 466.3,506.6 462.9,510 456.1,507.5 449.4,503.3 444.3,499"/>
<polygon fill="#FF5A00" points="370,477.1 378.4,478.3 388.6,478.3 397,480.5 403.8,486.4 408,494.8 410.5,504.9 413.1,513.4 414.8,521.8 414.8,529.9 370,529.9"/>
<polygon fill="#F0842C" points="370,488.1 375.1,490.6 380.1,495.7 385.2,501.6 389.4,506.6 391.1,513.4 392,521.8 388.6,528.6 386.9,529.9 370,529.9"/>
<polygon fill="#E6AA32" points="370,500.7 373.4,501.6 377.6,505.8 381,510.9 383.2,516.8 382.2,521.8 377.6,526.1 370,527.8"/>
<polygon fill="#CD0000" points="375.1,459.3 380.1,457.6 381.8,462.7 379.3,466.1 375.1,461.9"/>
<polygon fill="#A00000" points="422.4,529.9 427.4,521.8 432.5,513.4 437.6,509.2 444.3,508.3 451.1,510.9 457.8,514.2 464.6,516.8 474.7,519.3 484.9,521.8 495,526.1 495,529.9"/>
<polygon fill="#8B008B" points="426.6,529.9 430.8,521.8 434.2,515.1 439.3,511.7 446,511.4 452.8,513.4 449.4,516.8 454.5,521.8 462.9,526.1 471.4,527.8 479.8,526.9 488.2,528.6 491.6,529.9"/>
<polygon fill="#BA55D3" points="430,529.9 432.5,523.5 435,518.5 440.9,517.6 447.7,518.5 452.8,522.7 457.8,526.9 462.1,529.9"/>
</g>
<clipPath id="t19"><rect x="495" y="434" width="125" height="96"/></clipPath>
<g clip-path="url(#t19)">
<rect x="495" y="434" width="125" height="96" fill="#8B008B"/>
<polygon fill="#A00000" points="586.2,434 582.8,439.1 580.3,445.8 582.8,452.6 583.7,459.3 581.1,466.1 579.5,474.5 577.8,483 575.2,491.4 576.1,499.9 579.5,504.9 582.8,510 586.2,516.8 586.2,523.5 589.6,529.9 620,529.9 620,434"/>
<polygon fill="#CD0000" points="587.9,434 585.4,440.8 583.7,447.5 586.2,453.4 587.1,459.3 584.5,466.9 582.8,474.5 581.1,483 578.6,491.4 578.6,499 582,504.1 586.2,508.3 588.8,516.8 588.8,523.5 591.3,529.9 620,529.9 620,434"/>
<polygon fill="#FF0000" points="589.6,434 587.9,440.8 587.1,447.5 588.8,454.3 588.8,461 587.1,467.8 586.2,473.7 584.5,482.1 582,489.7 581.1,498.2 584.5,503.3 587.9,508.3 590.4,516.8 591.3,523.5 593,529.9 620,529.9 620,434"/>
<polygon fill="#FF5A00" points="592.1,434 591.3,440.8 589.6,447.5 591.3,456 591.3,462.7 589.6,468.6 590.4,474.5 587.1,483 584.5,489.7 583.7,498.2 587.1,503.3 590.4,509.2 593,516.8 594.7,523.5 596.4,529.9 620,529.9 620,434"/>
<polygon fill="#F0842C" points="596.4,434 593.8,440.8 593,447.5 596.4,454.3 601.4,459.3 604.8,466.1 603.1,470.3 598,467.8 593.8,466.1 592.1,472.9 591.3,479.6 588.8,484.7 586.2,491.4 587.1,498.2 591.3,503.3 596.4,501.6 599.7,496.5 606.5,492.3 613.2,488.9 620,486.4 620,434"/>
<polygon fill="#F0842C" points="604.8,503.3 609.9,499 620,498.2 620,529.9 596.4,529.9 598,525.2 603.1,523.5 606.5,518.5 604.8,511.7 604,506.6"/>
<polygon fill="#E6AA32" points="615.8,439.1 620,438.2 620,447.5 615.8,446.7"/>
<polygon fill="#E6AA32" points="604.8,527.8 613.2,526.9 613.2,529.9 604.8,529.9"/>
<polygon fill="#A00000" points="495,497.3 500.1,499.9 505.1,506.6 511.9,513.4 518.6,520.1 523.7,525.2 526.2,529.9 495,529.9"/>
<polygon fill="#CD0000" points="495,500.7 499.2,504.9 504.3,511.7 511,518.5 517.8,525.2 522,529.9 495,529.9"/>
</g>
</g>
<g stroke="#828282" stroke-width="1" stroke-dasharray="2 4" shape-rendering="crispEdges" fill="none">
<line x1="136.5" y1="55" x2="136.5" y2="529"/>
<line x1="196.5" y1="55" x2="196.5" y2="529"/>
<line x1="256.5" y1="55" x2="256.5" y2="529"/>
<line x1="317.5" y1="55" x2="317.5" y2="529"/>
<line x1="377.5" y1="55" x2="377.5" y2="529"/>
<line x1="438.5" y1="55" x2="438.5" y2="529"/>
<line x1="498.5" y1="55" x2="498.5" y2="529"/>
<line x1="558.5" y1="55" x2="558.5" y2="529"/>
</g>
<g stroke="#828282" stroke-width="1" stroke-dasharray="1 5" shape-rendering="crispEdges" fill="none">
<line x1="121" y1="106.5" x2="618" y2="106.5"/>
<line x1="121" y1="180.5" x2="618" y2="180.5"/>
<line x1="121" y1="254.5" x2="618" y2="254.5"/>
<line x1="121" y1="327.5" x2="618" y2="327.5"/>
<line x1="121" y1="401.5" x2="618" y2="401.5"/>
<line x1="121" y1="475.5" x2="618" y2="475.5"/>
</g>
<g clip-path="url(#cp)" stroke="#646464" stroke-width="2" fill="none" stroke-linejoin="round" stroke-linecap="round" shape-rendering="crispEdges">
<polyline points="158,52 165.6,55.1 175.7,57.6 187.6,59.8 197.7,61.5 207.8,64.4 221.4,65.5 231.5,66 239.9,66.9 245,68.2"/>
<polyline points="239.9,66.9 238.2,72 231.5,75.3 224.7,79.6 219.7,82.9 218.8,86.3 221.4,89.7 228.1,89.7 236.6,92.2 234.9,95.6 228.1,99 225.6,104.1 228.1,107.4 234,107.4 233.2,112.5 230.6,116.7 232.3,120.1 238.2,121.8 245,124.3"/>
<polyline points="153.8,145.9 159.7,140.4 164.8,137.8 169.3,139.5 164.8,142.9 161.4,144.9"/>
<polyline points="163.1,145.4 170.7,142.1 177.4,138.7 184.2,135.3 192.6,132.8 199.4,131.1 201.9,127.7 202.8,123.5 207.8,122.6 214.6,124.3 219.7,126.9 221.4,129.4 226.4,126.9 229.8,121.8 232.3,120.1"/>
<polyline points="245,132.8 240.8,135.3 238.2,137.8 231.5,141.2 226.4,142.9 228.1,145.9"/>
<polyline points="245,67.7 255.1,68.2 260.2,70.3 265.3,73.6 275.4,74.5 287.2,75.3 294,72.8 300.7,70.3 305,66.9 308.3,61 315.9,58.4 329.5,57.6 346.4,55.1 359.9,53 370,52.5"/>
<polyline points="370,86.3 361.6,88 355.6,90.5 353.1,95.6 355.6,99.8 360.7,101.5 360.7,114.2 358.2,117.6 346.4,118.4 337.9,122.6 334.5,126.9 337.9,131.1 334.5,137.8 333.7,145.9"/>
<polyline points="245,124.3 249.2,129.4 251.4,132.8 249.2,136.1 245,137"/>
<polyline points="249.2,145.4 261.9,144.6 278.8,143.8 283.9,141.2 288.1,134.5 290.6,130.7 293.1,131.9 295.7,136.1 302.4,141.2 309.2,142.9 315.9,142.1 322.7,144.6 324.4,145.9"/>
<polyline points="370,86.3 376.8,83.8 381.8,81.2 382.7,77 392,75.3 392.8,67.7 397,66.6 403.8,66.9 409.7,70.3"/>
<polyline points="397.9,52 402.1,58.4 406.3,65.2 409.7,70.3 417.3,72 425.7,77.9 430,81.2 430.8,85.5 435.9,89.2 444.3,91.4 448.5,94.8 452.8,99.8 453.6,104.9 458.7,110 464.6,110 471.4,110 475.6,113.3 478.1,117.6 486.6,120.1 495,122.3"/>
<polyline points="495,122.3 511.9,122.6 520.3,124.3 527.1,121.8 533.9,115.9 540.6,112.5 547.4,113.9 559.2,107.4 564.3,104.4 569.3,106.6 576.1,105.7 584.5,100.7 589.6,95.6 592.1,93.1"/>
<polyline points="603.1,94.3 609.9,94.8 618.3,93.6"/>
<polyline points="547.4,113.9 552.4,119.3 555.8,122.6 555,129.4 552.4,134.5 553.3,138.7 558.3,137.8 562.6,140.4 564.3,142.9 559.2,143.8 558.3,145.9"/>
<polyline points="152.1,146 148.7,150.2 145.3,156.1 146.2,161.2 151.2,166.3 154.6,171.3 158,176.4 163.9,179.8 168.1,181.5 166.5,186.5 164.3,191.3 160.5,190.3 159.7,194.1 154.6,191.9 151.2,195.8 150.4,201.7 151.2,210.2 152.1,218.6 154.6,225.4 158,233.8 162.2,240.6 163.1,241.9"/>
<polyline points="162.2,146 156.3,151.1 153.8,155.3"/>
<polyline points="159.7,190.3 159.2,187.4 161.4,186.5 162.2,189.1 160.5,190.3"/>
<polyline points="226.4,146 229,152.8 231.5,159.5 232.3,166.3 235.7,171.3 239.1,176.4 242.5,179.8 244.2,184 245,186.5"/>
<polyline points="234.9,146.8 245,146.8"/>
<polyline points="245,185.7 248.4,191.6 251.8,195.8 256,191.6 256.8,185.7 263.6,180.6 267,172.2 270.3,163.7 272.9,156.1 276.2,153.6 282.2,154.4 288.9,159.5 294,163.7 300.7,169.6 307.5,171.3 310.9,177.2 312.6,182.3 310,188.2 309.2,195 310.9,201.7 315.9,208.5 319.3,213.6 324.4,220.3 329.5,225.4 332.8,229.6 327.8,233 324.4,235.5 327.8,241.9"/>
<polyline points="288.9,159.5 285.5,165.4 282.2,171.3 283,175.6 288.9,178.9 295.7,181.5 300.7,183.2 304.1,181.5 303.3,177.2 299.1,173.9 295.7,168.8 293.1,163.7"/>
<polyline points="273.7,167.1 277.1,166.3 278.8,171.3 279.6,176.4 281.3,183.2 283.9,191.6 286.4,200.1 287.2,205.1 284.7,207.7 281.3,205.1 278.8,200.1 277.1,193.3 276.2,186.5 278.8,182.3 277.9,177.2 274.6,173 272.9,169.6 273.7,167.1"/>
<polyline points="278.8,200.1 277.9,205.1 280.5,210.2 285.5,216.9 288.9,216.1 284.7,211 281.3,205.1"/>
<polyline points="300.7,201.7 304.1,205.1 310.9,211 317.6,216.1 322.7,221.2 327.8,225.4 332.8,229.6 339.6,232.1 348,233.8"/>
<polyline points="245,146.8 257.7,146.5"/>
<polyline points="322.7,146 327.8,147.7 332.8,146"/>
<polyline points="370,162.9 364.9,164.6 363.2,169.6 364.1,178.1 363.2,186.5 361.6,191.6 363.2,195.8 370,200.1"/>
<polyline points="370,162.6 376.8,162.9 381.8,169.6 388.6,176.4 395.3,179.8 398.7,175.6 403.8,168 408.9,162.9 417.3,163.7 425.7,165.4 429.1,163.7 432.5,159.5 437.6,162 444.3,166.3 451.1,168 454.5,167.1 461.2,169.6 468,172.2 474.7,171.3 481.5,172.2 488.2,176.1 495,173.9"/>
<polyline points="370,200.9 375.1,201.7 378.4,208.5 383.5,215.3 386.9,222 388.6,228.8 386.9,235.5 386,238.9 392,238.9 396.2,241.9"/>
<polyline points="495,173.4 501.8,172.7 510.2,173 513.6,170.5 522,171.3 533.9,173 540.6,176.4 545.7,180.6 544,185.7 549.1,189.1 555.8,190.8 560.9,188.2 565.9,186.2 572.7,185.7 579.5,187.4 581.1,190.8 578.6,198.4 574.4,205.1 569.3,211.9 565.9,215.3 565.1,222 565.9,228.8 569.3,232.1 576.1,235.5 582.8,239.8 586.2,241.9"/>
<polyline points="559.2,188.2 563.4,179.8 565.1,173 567.6,164.6 571,162.9 577.8,166.3 583.7,165.4 583.7,162.9 576.1,161.2 567.6,157.8 560,153.6 557.5,150.2 557.8,146"/>
<polyline points="163.1,242 169,247.9 175.7,253.8 182.5,255.5 189.3,257.2 194.3,261.4 201.1,267.3 207.8,273.2 214.6,277.5 221.4,281.2 228.1,281.7 232.3,284.2 234.9,291 238.2,299.4 241.6,307.9 244.2,312.9 245,318"/>
<polyline points="159.7,258 162.2,255.5 165.9,255.2 165.6,258.6 163.1,260.9 160.2,260.2 159.7,258"/>
<polyline points="306.7,242 317.6,253 323.5,259.7 327.8,263.1 330.3,260.6 324.4,256.4 319.3,251.3 312.6,244.5 310,242"/>
<polyline points="328.6,242 332.8,247.1 337.9,253 344.7,258.9 351.4,264 358.2,269 364.9,271.6 370,273.2"/>
<polyline points="245,314.6 246.7,321.4 249.2,329.8 251.8,336.6 252.6,337.9"/>
<polyline points="395.3,242 398.7,246.2 403.8,250.4 410.5,253 415.6,258.9 420.7,265.6 425.7,271.6 430.8,277.5 437.6,285.1 444.3,290.1 451.1,292.7 453.6,296.1 454.5,302.8 457.8,307 464.6,312.1 471.4,317.2 476.4,321.4 478.1,326.5 475.6,329.8 469.7,329.8 464.6,326.5 459.5,321.4 454.5,316.3 449.4,312.9 442.6,308.7 437.6,305.3 434.2,301.1 429.1,296.9 420.7,292.7 412.2,290.1 403.8,286.8 395.3,286.8 388.6,289.3 383.5,291.8 376.8,291 372.5,285.9 373.4,280 370,275.8"/>
<polyline points="402.1,300.3 407.2,298.6 417.3,299.4 425.7,301.1 430.8,304.5 429.1,307.9 419,307 408.9,306.2 402.9,303.7 402.1,300.3"/>
<polyline points="400.4,312.9 408.9,311.3 420.7,313.8 430.8,316.3 444.3,317.2 444.3,318.9 437.6,319.7 425.7,318.9 413.9,318 405.5,316.3 400.4,312.9"/>
<polyline points="380.1,323.1 385.2,320.5 392,321.4 392,324.8 386.9,326.5 381,326.1 380.1,323.1"/>
<polyline points="415.6,328.1 419,332.4 427.4,334.6 437.6,332.4 444.3,329.8 449.4,326.5 440.9,323.9 437.6,326.5 425.7,329.8 415.6,328.1"/>
<polyline points="449.4,326.5 457.8,328.1 466.3,331.5 471.4,334.1 478.1,334.6 488.2,335.8 491.6,337.9"/>
<polyline points="469.7,329.8 474.7,333.2 481.5,334.1 486.6,334.1 489.9,337.9"/>
<polyline points="582.8,242 587.1,244.5 596.4,249.6 595.5,253 591.3,256.4 582.8,256.4 576.1,254.7 572.7,253 575.2,258 582.8,264 587.9,270.7 587.9,279.2 584.5,283.4 579.5,285.1 572.7,289.3 565.9,287.6 559.2,285.6 555,290.1 557.5,296.1 560.9,300.3 563.4,306.2 561.7,309.6 557.5,308.7 555,304.5 554.1,301.1 549.9,300.8 544,303.7 539.8,308.7 537.2,314.6 537.2,321.4 533.9,323.9 527.9,326.5 526.2,333.2 525.4,337.9"/>
<polyline points="572.7,289.3 576.1,294.4 582.8,300.3 589.6,307 596.4,313.8 604.8,316.3 613.2,319.7 620,321.4"/>
<polyline points="120,392.1 123.4,393.7 125.9,398 131.8,398.8 136.9,403 142,407.3 147,413.2 150.4,418.2 156.3,422.5 162.2,427.5 168.1,433.4"/>
<polyline points="161.4,407.6 163.9,407.9"/>
<polyline points="251.8,338 255.1,346.4 260.2,353.2 267,361.6 272,367.6 278.8,373.5 285.5,380.2 292.3,385.3 299.1,388.3 299.9,392.1 303.3,396.3 309.2,399.7 317.6,401.3 320.2,404.7 326.1,406.9 336.2,407.6 346.4,407.3 359.9,406.4 370,405.6"/>
<polyline points="370,405.6 376.8,404.7 382.7,406.4 386.9,410.6 388.9,415.7 386.9,420.8 381.8,424.1 375.1,426.7 371.7,430.1 370.8,433.9"/>
<polyline points="457,342.2 461.2,341.4 471.4,343.9 479.8,346.4 482.3,349.8 478.1,349.5 468,346.8 459.5,345.6 457,342.2"/>
<polyline points="471.4,338 481.5,340.5 491.6,344.8 495,346.4"/>
<polyline points="488.2,338 493.3,342.2 495,343.9"/>
<polyline points="495,346.4 501.8,349 508.5,352.4 515.3,355.7 520.3,354.9 524.6,358.3 525.4,365 528.8,369.2 531.3,371.8 533,368.4 538.9,368.1 540.6,370.9 535.5,371.8 538.9,374.3 544,377.7 550.7,380.2 554.1,386.1 560,392.1 565.9,398 567.6,404.7 574.4,408.9 579.5,409.8 586.2,410.6 593.8,414 594.7,420.8 591.3,427.5 587.9,433.9"/>
<polyline points="579.5,409.8 579.1,402.2 581.1,395.4 582,391.2 576.1,388.7 577.8,383.6 582.8,378.5 587.9,371.8 593,363.3 596.4,355.7 601.4,352.4 604,354.9 603.1,360.8 607.3,365 613.2,363.3 620,360"/>
<polyline points="525.4,360 532.2,353.2 533,349.8 527.9,344.8 525.4,338"/>
<polyline points="617.5,346.4 620,350.7"/>
<polyline points="151.2,420 158.9,426.8 165.6,432.7 172.4,439.4 180.8,442.8 189.3,446.2 194.3,450.4 196.9,455.5 201.9,456.3 207.8,453.8 212.9,452.1 219.7,453.8 228.1,456.3 238.2,456.3 245,460.5"/>
<polyline points="245,461.9 251.8,464.4 256,472.9 256,482.1 261,487.2 267,488.4 273.7,486.7 280.5,490.6 285.5,495.7 282.2,499.9 278.8,502.4 285.5,503.3 294,500.7 302.4,498.7 307.5,503.3 311.7,510 315.1,516.8 314.3,523.5 311.7,528.6"/>
<polyline points="370,434 373.4,438.2 377.6,443.3 385.2,445.8 395.3,450.9 405.5,456 415.6,460.2 424.1,463.1 434.2,466.1 442.6,469.5 449.4,472.9 456.1,478.8 462.9,484.7 468,488.1 474.7,489.7 481.5,493.1 488.2,496.5 495,499"/>
<polyline points="422.4,529.9 427.4,521.8 432.5,515.1 437.6,510.9 444.3,510 451.1,511.7 457,512.5 451.1,514.2 450.2,517.6 454.5,521.8 462.9,525.2 469.7,526.9 478.1,526.1 488.2,527.8 493.3,529.9"/>
<polyline points="587.1,434 585.4,440.8 584.5,449.2 587.6,452.6 587.6,459.3 585.4,467.8 585.4,473.7 589.6,477.1 590.4,480.5 587.1,483 582.8,484.7 581.1,491.4 576.9,500.7 580.3,504.9 586.2,507.5 587.6,513.4 587.1,521.8 584.5,523.5 581.1,518.5 577.8,515.4 575.7,517.6 578.6,521.8 581.1,526.9 582.8,529.9"/>
<polyline points="495,499 499.2,501.6 500.9,508.3 506.8,512.5 513.6,518.5 520.3,523.5 524.6,528.6"/>
</g>
<rect x="517" y="52" width="101" height="40" fill="#fff"/>
<path d="M516.5 52V92.5H618" stroke="#000" stroke-width="1" fill="none" shape-rendering="crispEdges"/>
<text class="lib" x="529.5" y="78.5" font-size="20" style="fill:#1e3cff;stroke:#1e3cff;stroke-width:0.4">©</text>
<text class="lib" x="548" y="78.5" font-size="20" textLength="58" lengthAdjust="spacingAndGlyphs" style="fill:#1e3cff;stroke:#1e3cff;stroke-width:0.4">DHMZ</text>
<rect x="121" y="466" width="134" height="63" fill="#fff"/>
<path d="M121 465.5H255.5V529" stroke="#000" stroke-width="1" fill="none" shape-rendering="crispEdges"/>
<text x="148.5" y="483" font-size="9.6" textLength="101" lengthAdjust="spacingAndGlyphs">Temperatura zraka</text>
<text x="172" y="496.5" font-size="9.6" textLength="77.5" lengthAdjust="spacingAndGlyphs">na 2m (st. C)</text>
<text x="140.5" y="510" font-size="9.6" textLength="109" lengthAdjust="spacingAndGlyphs">start 00z12nov2012</text>
<text x="128" y="524" font-size="9.6" textLength="121.5" lengthAdjust="spacingAndGlyphs">termin 21Z12NOV2012</text>
<rect x="120" y="51" width="499" height="479" fill="none" stroke="#000" stroke-width="2" shape-rendering="crispEdges"/>
<g stroke="#000" stroke-width="1" shape-rendering="crispEdges">
<line x1="136.5" y1="531" x2="136.5" y2="534"/>
<line x1="196.5" y1="531" x2="196.5" y2="534"/>
<line x1="256.5" y1="531" x2="256.5" y2="534"/>
<line x1="317.5" y1="531" x2="317.5" y2="534"/>
<line x1="377.5" y1="531" x2="377.5" y2="534"/>
<line x1="438.5" y1="531" x2="438.5" y2="534"/>
<line x1="498.5" y1="531" x2="498.5" y2="534"/>
<line x1="558.5" y1="531" x2="558.5" y2="534"/>
<line x1="619.5" y1="531" x2="619.5" y2="534"/>
<line x1="117" y1="106.5" x2="119" y2="106.5"/>
<line x1="117" y1="180.5" x2="119" y2="180.5"/>
<line x1="117" y1="254.5" x2="119" y2="254.5"/>
<line x1="117" y1="327.5" x2="119" y2="327.5"/>
<line x1="117" y1="401.5" x2="119" y2="401.5"/>
<line x1="117" y1="475.5" x2="119" y2="475.5"/>
</g>
<text x="128" y="544" font-size="10.3" textLength="17" lengthAdjust="spacingAndGlyphs">12E</text>
<text x="188" y="544" font-size="10.3" textLength="17" lengthAdjust="spacingAndGlyphs">13E</text>
<text x="248" y="544" font-size="10.3" textLength="17" lengthAdjust="spacingAndGlyphs">14E</text>
<text x="309" y="544" font-size="10.3" textLength="17" lengthAdjust="spacingAndGlyphs">15E</text>
<text x="369" y="544" font-size="10.3" textLength="17" lengthAdjust="spacingAndGlyphs">16E</text>
<text x="430" y="544" font-size="10.3" textLength="17" lengthAdjust="spacingAndGlyphs">17E</text>
<text x="490" y="544" font-size="10.3" textLength="17" lengthAdjust="spacingAndGlyphs">18E</text>
<text x="550" y="544" font-size="10.3" textLength="17" lengthAdjust="spacingAndGlyphs">19E</text>
<text x="611" y="544" font-size="10.3" textLength="17" lengthAdjust="spacingAndGlyphs">20E</text>
<text x="97" y="110.5" font-size="10.3" textLength="17.5" lengthAdjust="spacingAndGlyphs">46N</text>
<text x="97" y="184.5" font-size="10.3" textLength="17.5" lengthAdjust="spacingAndGlyphs">45N</text>
<text x="97" y="258.5" font-size="10.3" textLength="17.5" lengthAdjust="spacingAndGlyphs">44N</text>
<text x="97" y="331.5" font-size="10.3" textLength="17.5" lengthAdjust="spacingAndGlyphs">43N</text>
<text x="97" y="405.5" font-size="10.3" textLength="17.5" lengthAdjust="spacingAndGlyphs">42N</text>
<text x="97" y="479.5" font-size="10.3" textLength="17.5" lengthAdjust="spacingAndGlyphs">41N</text>
<text x="171" y="39.5" font-size="15" textLength="96.5" lengthAdjust="spacingAndGlyphs">Temperatura</text>
<text x="278.5" y="39.5" font-size="15" textLength="42" lengthAdjust="spacingAndGlyphs">zraka</text>
<text x="330.5" y="39.5" font-size="15" textLength="19.5" lengthAdjust="spacingAndGlyphs">na</text>
<text x="359" y="39.5" font-size="15" textLength="23.5" lengthAdjust="spacingAndGlyphs">2m</text>
<text x="393.5" y="39.5" font-size="15" textLength="9" lengthAdjust="spacingAndGlyphs">u</text>
<text x="411.5" y="39.5" font-size="15" textLength="17.5" lengthAdjust="spacingAndGlyphs">21</text>
<text x="441.5" y="39.5" font-size="15" textLength="28" lengthAdjust="spacingAndGlyphs">UTC</text>
<text x="481.5" y="39.5" font-size="15" textLength="89.5" lengthAdjust="spacingAndGlyphs">12NOV2012</text>
<g shape-rendering="crispEdges">
<rect x="652" y="77" width="15" height="19" fill="#FFEEDD"/>
<rect x="652" y="96" width="15" height="18" fill="#D8BFD8"/>
<rect x="652" y="114" width="15" height="19" fill="#DDA0DD"/>
<rect x="652" y="133" width="15" height="19" fill="#BA55D3"/>
<rect x="652" y="152" width="15" height="18" fill="#8B008B"/>
<rect x="652" y="170" width="15" height="19" fill="#A00000"/>
<rect x="652" y="189" width="15" height="19" fill="#CD0000"/>
<rect x="652" y="208" width="15" height="18" fill="#FF0000"/>
<rect x="652" y="226" width="15" height="19" fill="#FF5A00"/>
<rect x="652" y="245" width="15" height="19" fill="#F0842C"/>
<rect x="652" y="264" width="15" height="18" fill="#E6AA32"/>
<rect x="652" y="282" width="15" height="19" fill="#E6DC32"/>
<rect x="652" y="301" width="15" height="18" fill="#FAF064"/>
<rect x="652" y="319" width="15" height="19" fill="#E1F5A0"/>
<rect x="652" y="338" width="15" height="19" fill="#A0E632"/>
<rect x="652" y="357" width="15" height="18" fill="#00DC00"/>
<rect x="652" y="375" width="15" height="19" fill="#00B400"/>
<rect x="652" y="394" width="15" height="19" fill="#008000"/>
<rect x="652" y="413" width="15" height="18" fill="#1E3CFF"/>
<rect x="652" y="431" width="15" height="19" fill="#00A0E6"/>
<rect x="652" y="450" width="15" height="19" fill="#ADD8E6"/>
<rect x="652" y="469" width="15" height="18" fill="#E6FFFF"/>
</g>
<text x="670" y="81.3" font-size="12" textLength="16" lengthAdjust="spacingAndGlyphs">29</text>
<text x="670" y="99.9364" font-size="12" textLength="16" lengthAdjust="spacingAndGlyphs">27</text>
<text x="670" y="118.573" font-size="12" textLength="16" lengthAdjust="spacingAndGlyphs">25</text>
<text x="670" y="137.209" font-size="12" textLength="16" lengthAdjust="spacingAndGlyphs">23</text>
<text x="670" y="155.845" font-size="12" textLength="16" lengthAdjust="spacingAndGlyphs">21</text>
<text x="670" y="174.482" font-size="12" textLength="16" lengthAdjust="spacingAndGlyphs">19</text>
<text x="670" y="193.118" font-size="12" textLength="16" lengthAdjust="spacingAndGlyphs">17</text>
<text x="670" y="211.755" font-size="12" textLength="16" lengthAdjust="spacingAndGlyphs">15</text>
<text x="670" y="230.391" font-size="12" textLength="16" lengthAdjust="spacingAndGlyphs">13</text>
<text x="670" y="249.027" font-size="12" textLength="16" lengthAdjust="spacingAndGlyphs">11</text>
<text x="670" y="267.664" font-size="12" textLength="8" lengthAdjust="spacingAndGlyphs">9</text>
<text x="670" y="286.3" font-size="12" textLength="8" lengthAdjust="spacingAndGlyphs">7</text>
<text x="670" y="304.936" font-size="12" textLength="8" lengthAdjust="spacingAndGlyphs">5</text>
<text x="670" y="323.573" font-size="12" textLength="8" lengthAdjust="spacingAndGlyphs">3</text>
<text x="670" y="342.209" font-size="12" textLength="8" lengthAdjust="spacingAndGlyphs">1</text>
<text x="670" y="360.845" font-size="12" textLength="16" lengthAdjust="spacingAndGlyphs">−1</text>
<text x="670" y="379.482" font-size="12" textLength="16" lengthAdjust="spacingAndGlyphs">−3</text>
<text x="670" y="398.118" font-size="12" textLength="16" lengthAdjust="spacingAndGlyphs">−5</text>
<text x="670" y="416.755" font-size="12" textLength="16" lengthAdjust="spacingAndGlyphs">−7</text>
<text x="670" y="435.391" font-size="12" textLength="16" lengthAdjust="spacingAndGlyphs">−9</text>
<text x="670" y="454.027" font-size="12" textLength="22" lengthAdjust="spacingAndGlyphs">−11</text>
<text x="670" y="472.664" font-size="12" textLength="22" lengthAdjust="spacingAndGlyphs">−13</text>
<text x="670" y="491.3" font-size="12" textLength="22" lengthAdjust="spacingAndGlyphs">−15</text>
<text x="670" y="509.936" font-size="12" textLength="22" lengthAdjust="spacingAndGlyphs">−17</text>
<text x="664" y="528" font-size="10" textLength="35" lengthAdjust="spacingAndGlyphs">(st. C)</text>
</svg>
</body></html>
